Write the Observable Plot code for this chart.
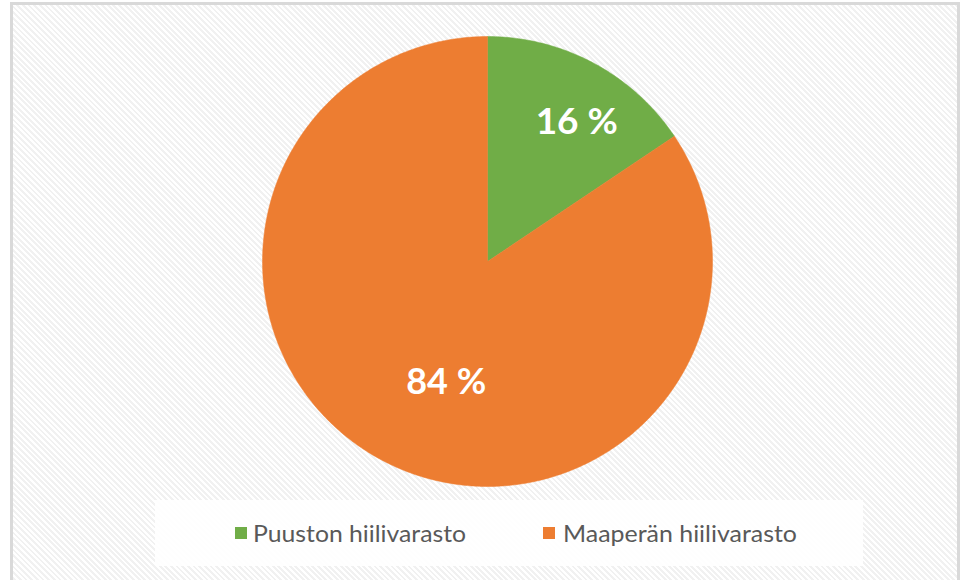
<!DOCTYPE html>
<html><head><meta charset="utf-8">
<script src="https://cdn.jsdelivr.net/npm/d3@7"></script>
<script src="https://cdn.jsdelivr.net/npm/@observablehq/plot@0.6"></script>
<style>
html,body{margin:0;padding:0;width:963px;height:580px;overflow:hidden;background:#fff;}
#frame{position:absolute;left:10px;top:2px;width:950px;height:600px;border:3px solid #d9d9d9;box-sizing:border-box;
 background:repeating-linear-gradient(45deg,#ffffff 0px,#ffffff 2px,#f1f1f1 2px,#f1f1f1 4px);}
#chart{position:absolute;left:0;top:0;}
#legend{position:absolute;left:155px;top:500px;width:708px;height:66px;background:rgba(255,255,255,0.88);
 font-family:Lato,"Open Sans",sans-serif;font-size:24px;color:#595959;}
.item{position:absolute;top:18px;height:30px;white-space:nowrap;}
.sw{position:absolute;top:9px;width:12px;height:12px;}
.tx{position:absolute;top:0;line-height:30px;display:inline-block;transform-origin:left center;}
</style></head>
<body>
<div id="frame"></div>
<div id="chart"></div>
<div id="legend"></div>
<script>
const categories = ["Puuston hiilivarasto", "Maaperän hiilivarasto"];
const values = [15.6, 84.4];
const colors = ["#70ad47", "#ed7d31"];

const total = d3.sum(values);
let acc = 0;
const slices = categories.map((c, i) => {
  const a0 = acc / total * 2 * Math.PI;
  acc += values[i];
  const a1 = acc / total * 2 * Math.PI;
  return {category: c, value: values[i], a0, a1, mid: (a0 + a1) / 2};
});
const pts = [];
for (const s of slices) {
  pts.push({category: s.category, x: 0, y: 0});
  const n = Math.max(2, Math.ceil((s.a1 - s.a0) / (Math.PI / 360)));
  for (let k = 0; k <= n; k++) {
    const a = s.a0 + (s.a1 - s.a0) * k / n;
    pts.push({category: s.category, x: Math.sin(a), y: Math.cos(a)});
  }
  pts.push({category: s.category, x: 0, y: 0});
}
const labelR = [0.72, 0.57];
const labels = slices.map((s, i) => ({...s, x: labelR[i] * Math.sin(s.mid), y: labelR[i] * Math.cos(s.mid)}));

const chart = Plot.plot({
  width: 963, height: 580, margin: 0,
  x: {domain: [-1, 1], range: [262, 712], axis: null},
  y: {domain: [-1, 1], range: [486, 36], axis: null},
  color: {domain: categories, range: colors},
  style: {background: "transparent", overflow: "visible"},
  marks: [
    Plot.line(pts, {x: "x", y: "y", z: "category", fill: "category", stroke: "category", strokeWidth: 0.5}),
    Plot.text(labels.filter((d, i) => i === 0), {x: "x", y: "y", text: d => `${Math.round(d.value)} %`, fill: "white",
      fontSize: 37, fontWeight: "bold", fontFamily: "Lato, 'Open Sans', sans-serif", dx: 13, dy: 4}),
    Plot.text(labels.filter((d, i) => i === 1), {x: "x", y: "y", text: d => `${Math.round(d.value)} %`, fill: "white",
      fontSize: 36, fontWeight: "bold", fontFamily: "Lato, 'Open Sans', sans-serif", dx: 19, dy: 8})
  ]
});
document.getElementById("chart").appendChild(chart);

const leg = document.getElementById("legend");
const swX = [80, 388];
const txX = [98, 408];
const txW = [213, 234];
categories.forEach((c, i) => {
  const sw = document.createElement("span");
  sw.className = "sw";
  sw.style.left = swX[i] + "px";
  sw.style.top = (18 + 9) + "px";
  sw.style.background = colors[i];
  leg.appendChild(sw);
  const tx = document.createElement("span");
  tx.className = "tx";
  tx.style.left = txX[i] + "px";
  tx.style.top = "18px";
  tx.textContent = c;
  leg.appendChild(tx);
  const w = tx.getBoundingClientRect().width;
  tx.style.transform = `scaleX(${txW[i] / w})`;
});
</script>
</body></html>
